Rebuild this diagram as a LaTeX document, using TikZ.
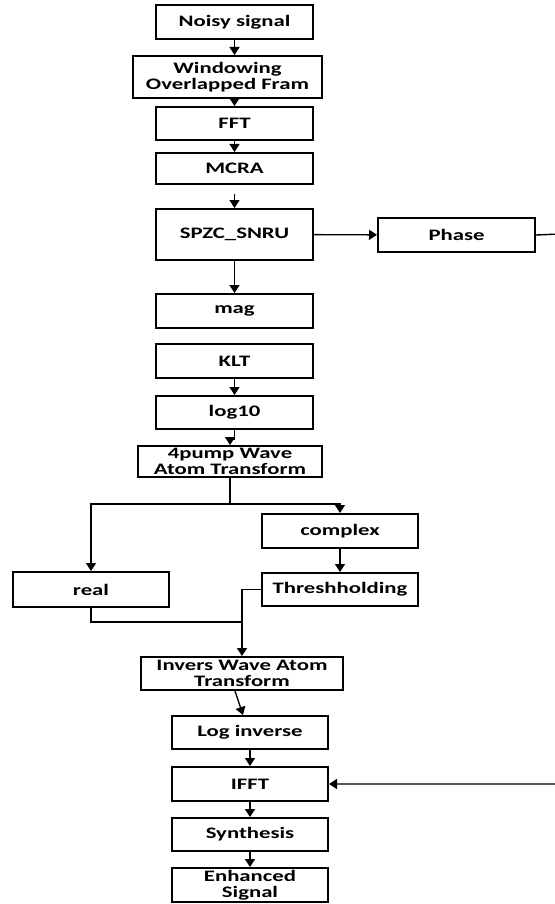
\documentclass[tikz,border=0pt]{standalone}
\usepackage{fontspec}
\setmainfont{Carlito}[FakeStretch=1.42]
\usetikzlibrary{arrows.meta,calc}
\tikzset{
  box/.style={draw=black, line width=2pt, inner sep=0pt, align=center,
    font=\fontsize{16}{15.5}\selectfont\bfseries},
  conn/.style={draw=black, line width=1.4pt},
  arr/.style={conn, -{Triangle[length=8pt,width=10pt]}}
}
\newcommand\mkbox[6]{%
  \node[box, minimum width={(#4-#2)*1pt}, minimum height={(#5-#3)*1pt}]
    (#1) at ({(#2+#4)/2}, {-(#3+#5)/2}) {#6};}
\begin{document}
\begin{tikzpicture}[x=1pt,y=1pt]
\useasboundingbox (0,0) rectangle (554,-904);
\mkbox{noisy}{156}{5}{313}{39}{Noisy signal}
\mkbox{win}{133}{56}{322}{98}{Windowing\\Overlapped Fram}
\mkbox{fft}{156}{107}{313}{140}{FFT}
\mkbox{mcra}{156}{153}{313}{184}{MCRA}
\mkbox{spzc}{156}{209}{313}{260}{SPZC\_SNRU}
\mkbox{phase}{378}{218}{535}{252}{Phase}
\mkbox{mag}{156}{294}{313}{328}{mag}
\mkbox{klt}{156}{344}{313}{378}{KLT}
\mkbox{logt}{156}{396}{313}{429}{log10}
\mkbox{pump}{138}{446}{322}{477}{4pump Wave\\Atom Transform}
\mkbox{complex}{262}{514}{418}{548}{complex}
\mkbox{real}{13}{572}{169}{607}{real}
\mkbox{thr}{262}{573}{418}{606}{Threshholding}
\mkbox{inv}{141}{657}{343}{690}{Invers Wave Atom\\Transform}
\mkbox{loginv}{172}{716}{328}{749}{Log inverse}
\mkbox{ifft}{172}{767}{328}{801}{IFFT}
\mkbox{syn}{172}{818}{328}{851}{Synthesis}
\mkbox{enh}{172}{868}{328}{902}{Enhanced\\Signal}
% connectors
\coordinate (sp) at (230,-504);
\coordinate (jn) at (242,-622);
\coordinate (rt) at (560,-234);
\draw[arr] (noisy.south) -- (noisy.south |- win.north);
\draw[arr] (win.south -| fft.north) -- (fft.north);
\draw[arr] (fft) -- (mcra);
\draw[arr, shorten <=9pt] (mcra.south) -- (spzc.north);
\draw[arr] (spzc) -- (phase);
\draw[arr] (phase.east) -- (rt) |- (ifft.east);
\draw[arr] (spzc) -- (mag);
\draw[arr] (klt) -- (logt);
\draw[arr] (logt.south) -- ++(0,-9) -| (pump.north);
\draw[conn] (pump.south) -- (sp);
\draw[arr] (sp) -| (real.north);
\draw[arr] (sp) -| (complex.north);
\draw[arr] (complex) -- (thr);
\draw[arr] (thr.west) -| (inv.north);
\draw[conn] (real.south) |- (jn);
\draw[arr] ([xshift=-7pt]inv.south) -- ([xshift=-7pt]loginv.north);
\draw[arr] (loginv) -- (ifft);
\draw[arr] (ifft) -- (syn);
\draw[arr] (syn) -- (enh);
\end{tikzpicture}
\end{document}
